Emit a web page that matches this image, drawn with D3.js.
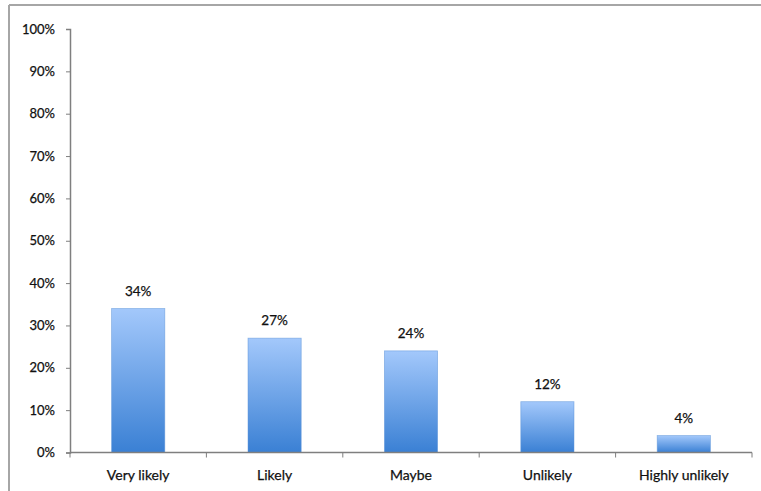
<!DOCTYPE html>
<html>
<head>
<meta charset="utf-8">
<script src="https://cdn.jsdelivr.net/npm/d3@7"></script>
<style>
  html, body { margin: 0; padding: 0; background: #fff; }
  svg { display: block; }
  text { font-family: Lato, "Open Sans", sans-serif; fill: #111; stroke: #111; stroke-width: 0.25px; }
</style>
</head>
<body>
<svg id="chart" width="761" height="491"></svg>
<script>
// Survey responses: share of respondents per answer
const categories = ["Very likely", "Likely", "Maybe", "Unlikely", "Highly unlikely"];
const values = [34, 27, 24, 12, 4];
const yTicks = [0, 10, 20, 30, 40, 50, 60, 70, 80, 90, 100];

const svg = d3.select("#chart");
const W = 761, H = 491;
const margin = { left: 70, right: 9, top: 29, bottom: 38.5 };

// outer frame (top and left edges visible)
svg.append("line").attr("x1", 9).attr("x2", W).attr("y1", 5).attr("y2", 5)
  .attr("stroke", "#a6a6a6").attr("stroke-width", 2);
svg.append("line").attr("x1", 9).attr("x2", 9).attr("y1", 5).attr("y2", H)
  .attr("stroke", "#a6a6a6").attr("stroke-width", 2);

const x = d3.scaleBand()
  .domain(categories)
  .range([margin.left, W - margin.right])
  .paddingInner(0.61)
  .paddingOuter(0.305);

const y = d3.scaleLinear()
  .domain([0, 100])
  .range([H - margin.bottom, margin.top]);

// bar gradient
const defs = svg.append("defs");
const grad = defs.append("linearGradient").attr("id", "barGrad")
  .attr("x1", 0).attr("x2", 0).attr("y1", 0).attr("y2", 1);
grad.append("stop").attr("offset", "0%").attr("stop-color", "#a3c8fb");
grad.append("stop").attr("offset", "100%").attr("stop-color", "#3a80d4");

svg.append("g").selectAll("rect")
  .data(values)
  .join("rect")
  .attr("x", (d, i) => x(categories[i]))
  .attr("y", d => y(d))
  .attr("width", x.bandwidth())
  .attr("height", d => y(0) - y(d))
  .attr("fill", "url(#barGrad)")
  .attr("stroke", "#5d95d8")
  .attr("stroke-width", 0.8)
  .attr("stroke-opacity", 0.6);

// value labels
svg.append("g").selectAll("text")
  .data(values)
  .join("text")
  .attr("x", (d, i) => x(categories[i]) + x.bandwidth() / 2)
  .attr("y", d => y(d) - 13)
  .attr("text-anchor", "middle")
  .attr("font-size", 13.5)
  .text(d => d + "%");

// y axis
const yAxis = svg.append("g")
  .attr("transform", `translate(${margin.left},0)`)
  .call(d3.axisLeft(y).tickValues(yTicks).tickFormat(d => d + "%").tickSize(4).tickPadding(11));
yAxis.select(".domain").attr("stroke", "#7f7f7f").attr("stroke-width", 1.5);
yAxis.selectAll(".tick line").attr("stroke", "#7f7f7f");
yAxis.selectAll(".tick text").attr("font-size", 13).attr("font-family", "Lato, sans-serif").attr("fill", "#111");

// x axis with ticks at category boundaries
const xAxisG = svg.append("g").attr("transform", `translate(0,${y(0)})`);
xAxisG.append("line")
  .attr("x1", margin.left).attr("x2", W - margin.right)
  .attr("stroke", "#7f7f7f").attr("stroke-width", 1.5);
const step = x.step();
const boundaries = categories.map(c => x(c) - x.paddingOuter() * step);
boundaries.push(W - margin.right);
xAxisG.selectAll(".bt")
  .data(boundaries)
  .join("line")
  .attr("class", "bt")
  .attr("x1", d => d).attr("x2", d => d)
  .attr("y1", 0).attr("y2", 5)
  .attr("stroke", "#7f7f7f");
xAxisG.selectAll(".cl")
  .data(categories)
  .join("text")
  .attr("class", "cl")
  .attr("x", d => x(d) + x.bandwidth() / 2)
  .attr("y", 27)
  .attr("text-anchor", "middle")
  .attr("font-size", 14)
  .text(d => d);
</script>
</body>
</html>
